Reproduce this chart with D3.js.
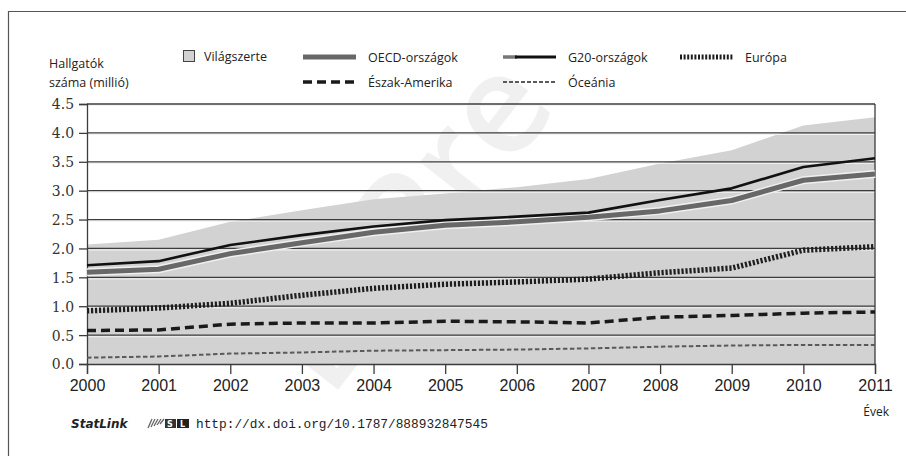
<!DOCTYPE html>
<html>
<head>
<meta charset="utf-8">
<script src="https://cdn.jsdelivr.net/npm/d3@7/dist/d3.min.js"></script>
<style>
  body { margin: 0; background: #fff; }
  svg { display: block; }
</style>
</head>
<body>
<svg id="chart" width="906" height="456"></svg>
<script>
// years on the x axis
var years = [2000, 2001, 2002, 2003, 2004, 2005, 2006, 2007, 2008, 2009, 2010, 2011];
var yTicks = [0, 0.5, 1, 1.5, 2, 2.5, 3, 3.5, 4, 4.5];

// students (million)
var world = [2.07, 2.15, 2.46, 2.66, 2.85, 2.95, 3.06, 3.20, 3.47, 3.70, 4.13, 4.27];
var oecd = [1.59, 1.64, 1.91, 2.10, 2.28, 2.40, 2.46, 2.54, 2.65, 2.83, 3.18, 3.29];
var g20 = [1.71, 1.78, 2.06, 2.23, 2.38, 2.49, 2.55, 2.62, 2.84, 3.04, 3.41, 3.56];
var europe = [0.92, 0.97, 1.05, 1.19, 1.31, 1.38, 1.42, 1.47, 1.58, 1.66, 1.97, 2.03];
var northAmerica = [0.58, 0.59, 0.69, 0.71, 0.71, 0.74, 0.73, 0.71, 0.81, 0.84, 0.88, 0.90];
var oceania = [0.11, 0.13, 0.18, 0.20, 0.23, 0.24, 0.25, 0.27, 0.30, 0.32, 0.33, 0.33];

var svg = d3.select('#chart');
var sans = '"Open Sans", "Noto Sans", sans-serif';

var x = d3.scaleLinear().domain([2000, 2011]).range([87, 875]);
var y = d3.scaleLinear().domain([0, 4.5]).range([364, 104]);

// frame of the figure
svg.append('path')
  .attr('d', 'M8.5,456V11.5H906')
  .attr('fill', 'none')
  .attr('stroke', '#555')
  .attr('stroke-width', 1.2);

// faint watermark, kept inside the picture
svg.append('text')
  .attr('transform', 'translate(330,400) rotate(-52)')
  .attr('font-family', sans)
  .attr('font-weight', 600)
  .attr('font-size', 140)
  .attr('fill', '#000')
  .attr('fill-opacity', 0.06)
  .text('DIPre');

// world total as a shaded area
var area = d3.area()
  .x((d, i) => x(years[i]))
  .y0(y(0))
  .y1((d) => y(d));

svg.append('path')
  .datum(world)
  .attr('d', area)
  .attr('fill', '#d2d2d2');

// gridlines (dark line with a light line under it)
var grid = svg.append('g');
grid.selectAll('line.light')
  .data(yTicks.slice(1))
  .enter().append('line')
  .attr('class', 'light')
  .attr('x1', x(2000)).attr('x2', x(2011))
  .attr('y1', (d) => y(d) + 1.6).attr('y2', (d) => y(d) + 1.6)
  .attr('stroke', '#f2f2f2')
  .attr('stroke-width', 1);
grid.selectAll('line.dark')
  .data(yTicks.slice(1))
  .enter().append('line')
  .attr('class', 'dark')
  .attr('x1', x(2000)).attr('x2', x(2011))
  .attr('y1', (d) => y(d)).attr('y2', (d) => y(d))
  .attr('stroke', '#3c3c3c')
  .attr('stroke-width', 1.3);

// right border of the plot
svg.append('line')
  .attr('x1', x(2011)).attr('x2', x(2011))
  .attr('y1', y(4.5)).attr('y2', y(0))
  .attr('stroke', '#3c3c3c')
  .attr('stroke-width', 1.3);

// axes
var xAxis = svg.append('g')
  .attr('transform', 'translate(0,' + y(0) + ')')
  .call(d3.axisBottom(x).tickValues(years).tickFormat(d3.format('d')).tickSize(10).tickPadding(6));
xAxis.selectAll('text')
  .attr('font-family', '"Liberation Sans", Arial, sans-serif')
  .attr('font-size', 16)
  .attr('fill', '#222');

var yAxis = svg.append('g')
  .attr('transform', 'translate(' + x(2000) + ',0)')
  .call(d3.axisLeft(y).tickValues(yTicks).tickFormat(d3.format('.1f')).tickSize(8).tickPadding(5));
yAxis.selectAll('text')
  .attr('font-family', '"DejaVu Serif Condensed", "DejaVu Serif", serif')
  .attr('font-size', 15.5)
  .attr('fill', '#333');

[xAxis, yAxis].forEach(function(ax) {
  ax.select('.domain').attr('stroke', '#3c3c3c').attr('stroke-width', 1.3);
  ax.selectAll('.tick line').attr('stroke', '#3c3c3c').attr('stroke-width', 1.3);
});

// series lines
var line = d3.line()
  .x((d, i) => x(years[i]))
  .y((d) => y(d));

var series = [
  { name: 'Óceánia', values: oceania, color: '#5a5a5a', width: 2, dash: '4.5,2.5' },
  { name: 'Észak-Amerika', values: northAmerica, color: '#1a1a1a', width: 3.5, dash: '9,5' },
  { name: 'Európa', values: europe, color: '#1e1e1e', width: 5.5, dash: '2.2,1.8' },
  { name: 'OECD-casing', values: oecd, color: '#f0f0f0', width: 8, dash: null },
  { name: 'OECD-országok', values: oecd, color: '#686868', width: 5, dash: null },
  { name: 'G20-országok', values: g20, color: '#111', width: 2.6, dash: null }
];

svg.append('g').selectAll('path')
  .data(series)
  .enter().append('path')
  .attr('d', (d) => line(d.values))
  .attr('fill', 'none')
  .attr('stroke', (d) => d.color)
  .attr('stroke-width', (d) => d.width)
  .attr('stroke-dasharray', (d) => d.dash)
  .attr('stroke-linejoin', 'round');

// y title
var yTitle = svg.append('text')
  .attr('font-family', sans)
  .attr('font-size', 12.5)
  .attr('fill', '#222');
yTitle.append('tspan').attr('x', 49).attr('y', 68).text('Hallgatók');
yTitle.append('tspan').attr('x', 49).attr('y', 87).text('száma (millió)');

// legend
var legend = svg.append('g')
  .attr('font-family', sans)
  .attr('font-size', 12.5)
  .attr('fill', '#222');

legend.append('rect')
  .attr('x', 183.5).attr('y', 50.5).attr('width', 11).attr('height', 11)
  .attr('fill', '#d2d2d2').attr('stroke', '#444').attr('stroke-width', 1);
legend.append('text').attr('x', 204).attr('y', 61).text('Világszerte');

var legendItems = [
  { label: 'OECD-országok', x: 303, y: 57, color: '#686868', width: 5, dash: null },
  { label: 'G20-országok', x: 503, y: 57, color: '#111', width: 2.8, dash: null },
  { label: 'Európa', x: 680, y: 57, color: '#1e1e1e', width: 5, dash: '2,1.6' },
  { label: 'Észak-Amerika', x: 303, y: 82, color: '#1a1a1a', width: 3.5, dash: '9,5' },
  { label: 'Óceánia', x: 503, y: 82, color: '#5a5a5a', width: 2.2, dash: '4,2' }
];

var items = legend.selectAll('g.item')
  .data(legendItems)
  .enter().append('g')
  .attr('class', 'item');

// G20 swatch begins with a grey stub
items.filter((d) => d.label === 'G20-országok')
  .append('line')
  .attr('x1', (d) => d.x).attr('x2', (d) => d.x + 14)
  .attr('y1', (d) => d.y).attr('y2', (d) => d.y)
  .attr('stroke', '#777').attr('stroke-width', 3.5);

items.append('line')
  .attr('x1', (d) => d.label === 'G20-országok' ? d.x + 12 : d.x)
  .attr('x2', (d) => d.x + 53)
  .attr('y1', (d) => d.y).attr('y2', (d) => d.y)
  .attr('stroke', (d) => d.color)
  .attr('stroke-width', (d) => d.width)
  .attr('stroke-dasharray', (d) => d.dash);

items.append('text')
  .attr('x', (d) => d.x + 65)
  .attr('y', (d) => d.y + 5)
  .text((d) => d.label);

// axis unit
svg.append('text')
  .attr('x', 889).attr('y', 416)
  .attr('text-anchor', 'end')
  .attr('font-family', sans)
  .attr('font-size', 12)
  .attr('fill', '#222')
  .text('Évek');

// StatLink footer
svg.append('text')
  .attr('x', 71).attr('y', 428)
  .attr('font-family', '"DejaVu Sans", sans-serif')
  .attr('font-weight', 'bold')
  .attr('font-style', 'italic')
  .attr('font-size', 12)
  .attr('fill', '#222')
  .text('StatLink');

var icon = svg.append('g').attr('transform', 'translate(148,418)');
[0, 3, 6, 9, 12].forEach(function(dx, i) {
  icon.append('line')
    .attr('x1', dx).attr('x2', dx + 4)
    .attr('y1', 10 - i).attr('y2', 1)
    .attr('stroke', '#666').attr('stroke-width', 1.3);
});
icon.append('rect').attr('x', 17).attr('y', 1).attr('width', 11).attr('height', 9).attr('fill', '#333');
icon.append('rect').attr('x', 29).attr('y', 1).attr('width', 12).attr('height', 9).attr('fill', '#222');
icon.append('text').attr('x', 19).attr('y', 9).attr('font-size', 8).attr('font-weight', 'bold')
  .attr('font-family', '"DejaVu Sans", sans-serif').attr('fill', '#fff').text('S');
icon.append('text').attr('x', 32).attr('y', 9).attr('font-size', 8).attr('font-weight', 'bold')
  .attr('font-family', '"DejaVu Sans", sans-serif').attr('fill', '#fff').text('L');

svg.append('text')
  .attr('x', 196).attr('y', 428)
  .attr('font-family', '"Liberation Mono", "DejaVu Sans Mono", monospace')
  .attr('font-size', 12.8)
  .attr('fill', '#222')
  .text('http://dx.doi.org/10.1787/888932847545');
</script>
</body>
</html>
